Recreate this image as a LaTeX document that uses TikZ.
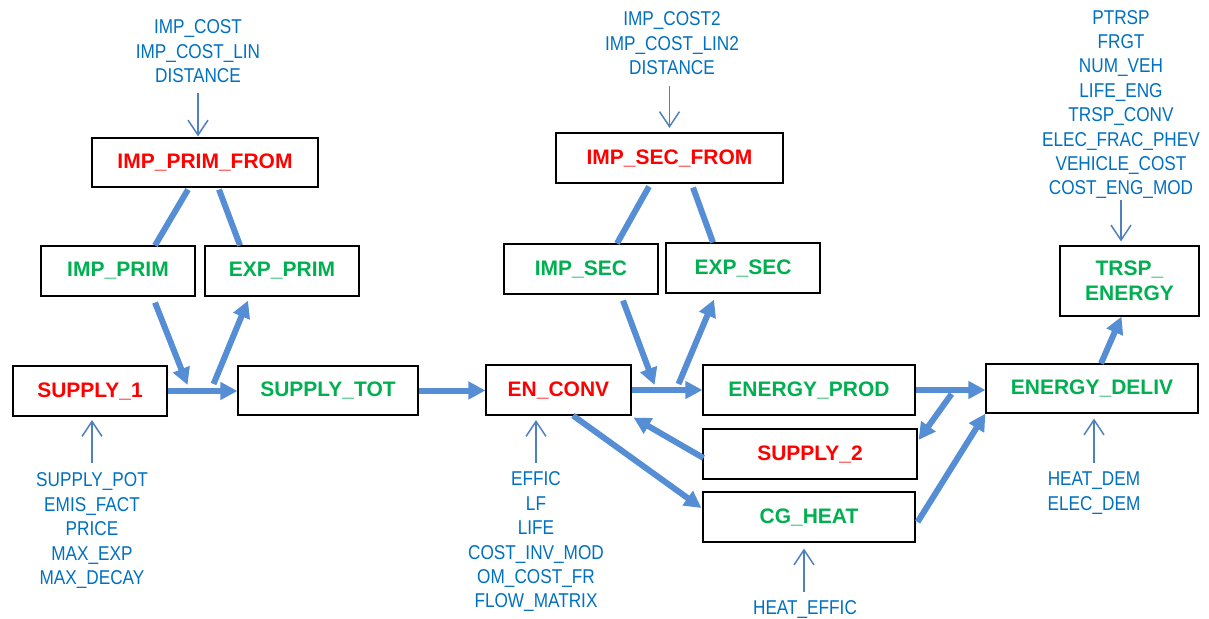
\documentclass[tikz,border=0pt]{standalone}
\usepackage{fontspec}
\setmainfont{Liberation Sans}
\newfontfamily\paramfont[FakeStretch=0.86]{Liberation Sans}
\usetikzlibrary{arrows.meta}
\definecolor{boxred}{RGB}{255,0,0}
\definecolor{boxgreen}{RGB}{0,176,80}
\definecolor{paramblue}{RGB}{0,112,192}
\definecolor{flowblue}{RGB}{85,142,213}
\definecolor{linkblue}{RGB}{79,129,189}

\begin{document}
\begin{tikzpicture}[x=1bp,y=-1bp,
  box/.style={draw=black, line width=1.1bp, inner sep=0pt, align=center,
    font=\fontsize{21bp}{24.5bp}\selectfont\bfseries},
  redbox/.style={box, text=boxred},
  greenbox/.style={box, text=boxgreen},
  params/.style={inner sep=0pt, align=center, text=paramblue,
    font=\fontsize{20bp}{24.4bp}\paramfont},
  flow/.style={draw=flowblue, line width=6bp, -{Triangle[length=17bp,width=17bp]}},
  link/.style={draw=flowblue, line width=6bp},
  feed/.style={draw=linkblue, line width=1.5bp, -{Straight Barb[length=15bp,width=20bp]}}
]
\useasboundingbox (0,0) rectangle (1209,619);

% model blocks
\node[redbox,   minimum width=226bp, minimum height=49bp] (ipf) at (205,162.5) {IMP\_PRIM\_FROM};
\node[greenbox, minimum width=154bp, minimum height=50bp] (ip)  at (118,271)   {IMP\_PRIM};
\node[greenbox, minimum width=154bp, minimum height=50bp] (ep)  at (282,271)   {EXP\_PRIM};
\node[redbox,   minimum width=154bp, minimum height=50bp] (s1)  at (90,391)    {SUPPLY\_1};
\node[greenbox, minimum width=180bp, minimum height=49bp] (st)  at (328,390.5) {SUPPLY\_TOT};
\node[redbox,   minimum width=145bp, minimum height=50bp] (ec)  at (558.5,390) {EN\_CONV};
\node[redbox,   minimum width=227bp, minimum height=50bp] (isf) at (669.5,158) {IMP\_SEC\_FROM};
\node[greenbox, minimum width=154bp, minimum height=50bp] (is)  at (581,269)   {IMP\_SEC};
\node[greenbox, minimum width=154bp, minimum height=50bp] (es)  at (743,268)   {EXP\_SEC};
\node[greenbox, minimum width=212bp, minimum height=50bp] (epd) at (809,390)   {ENERGY\_PROD};
\node[redbox,   minimum width=214bp, minimum height=50bp] (s2)  at (810,454)   {SUPPLY\_2};
\node[greenbox, minimum width=212bp, minimum height=50bp] (cg)  at (809,517)   {CG\_HEAT};
\node[greenbox, minimum width=212bp, minimum height=49bp] (ed)  at (1092,388.5) {ENERGY\_DELIV};
\node[greenbox, minimum width=139bp, minimum height=70bp] (te)  at (1129.5,281) {TRSP\_\\ENERGY};

% parameter lists
\node[params, anchor=north] (p1) at (198,19.5) {IMP\_COST\\IMP\_COST\_LIN\\DISTANCE};
\node[params, anchor=north] (p2) at (672,11.7) {IMP\_COST2\\IMP\_COST\_LIN2\\DISTANCE};
\node[params, anchor=north] (p3) at (1121,10) {PTRSP\\FRGT\\NUM\_VEH\\LIFE\_ENG\\TRSP\_CONV\\ELEC\_FRAC\_PHEV\\VEHICLE\_COST\\COST\_ENG\_MOD};
\node[params, anchor=north] (p4) at (92,472.7) {SUPPLY\_POT\\EMIS\_FACT\\PRICE\\MAX\_EXP\\MAX\_DECAY};
\node[params, anchor=north] (p5) at (536,471.7) {EFFIC\\LF\\LIFE\\COST\_INV\_MOD\\OM\_COST\_FR\\FLOW\_MATRIX};
\node[params, anchor=north] (p6) at (805,600) {HEAT\_EFFIC};
\node[params, anchor=north] (p7) at (1094,471.7) {HEAT\_DEM\\ELEC\_DEM};

% parameter feeds
\draw[feed, shorten <=10bp, shorten >=1bp] (p1.south) -- (p1.south |- ipf.north);
\draw[feed, shorten <=11bp, shorten >=4.5bp] (isf.north |- p2.south) -- (isf.north);
\draw[feed, shorten <=0.5bp, shorten >=4bp] (p3.south) -- (p3.south |- te.north);
\draw[feed, shorten <=9.5bp, shorten >=3.5bp] (p4.north) -- (p4.north |- s1.south);
\draw[feed, shorten <=8.7bp, shorten >=4.5bp] (p5.north) -- (p5.north |- ec.south);
\draw[feed, shorten <=8.3bp, shorten >=6bp] ([xshift=-1bp]p6.north) -- ([xshift=-1bp]p6.north |- cg.south);
\draw[feed, shorten <=8.7bp, shorten >=5bp] (p7.north) -- (p7.north |- ed.south);

% junction points on the flow lines
\coordinate (j1) at ([xshift=20bp,yshift=6bp]s1.east);
\coordinate (j2) at ([xshift=46bp,yshift=7bp]s1.east);
\coordinate (j3) at ([xshift=23bp,yshift=5bp]ec.east);
\coordinate (j4) at ([xshift=47bp,yshift=6bp]ec.east);
\coordinate (j5) at ([xshift=36bp,yshift=-4bp]epd.east);

% primary trade
\draw[link] ([xshift=-17bp,yshift=-2bp]ipf.south) -- ([xshift=37bp]ip.north);
\draw[link] ([xshift=14bp,yshift=-2bp]ipf.south) -- ([xshift=-42bp]ep.north);
\draw[flow] ([xshift=37bp,yshift=-6bp]ip.south) -- (j1);
\draw[flow] (j2) -- ([xshift=-34bp,yshift=-4bp]ep.south);
\draw[flow] (s1.east) -- (s1.east -| st.west);
\draw[flow] (st.east) -- (st.east -| ec.west);

% secondary trade
\draw[link] ([xshift=-20.5bp,yshift=-3bp]isf.south) -- ([xshift=36bp]is.north);
\draw[link] ([xshift=23.5bp,yshift=-4bp]isf.south) -- ([xshift=-30bp]es.north);
\draw[flow] ([xshift=42bp,yshift=-6bp]is.south) -- (j3);
\draw[flow] (j4) -- ([xshift=-29bp,yshift=-6bp]es.south);

% conversion and delivery
\draw[flow] (ec.east) -- (ec.east -| epd.west);
\draw[flow] ([xshift=1bp,yshift=-4bp]s2.west) -- ([xshift=2bp,yshift=-2bp]ec.south east);
\draw[flow] ([xshift=14.5bp]ec.south) -- ([xshift=-1bp,yshift=9bp]cg.west);
\draw[flow] (epd.east) -- (epd.east -| ed.west);
\draw[flow] (j5) -- ([xshift=1bp,yshift=14bp]s2.east);
\draw[flow] ([xshift=2bp,yshift=-5bp]cg.east) -- (ed.south west);
\draw[flow] ([xshift=9bp]ed.north) -- ([xshift=-8bp]te.south);
\end{tikzpicture}
\end{document}
